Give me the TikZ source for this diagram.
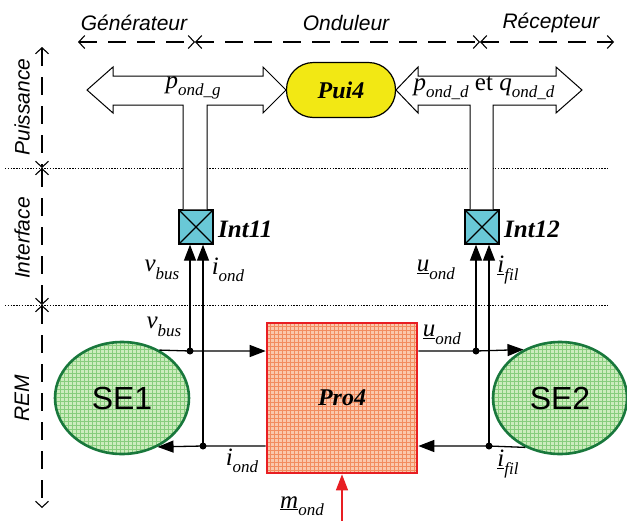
\documentclass[tikz,border=0pt]{standalone}
\usepackage{fontspec}
\setmainfont{Liberation Serif}
\newfontfamily\arialf{Liberation Sans}
\usetikzlibrary{arrows.meta,shapes.geometric}
\definecolor{probase}{RGB}{250,200,172}
\definecolor{progrid}{RGB}{242,140,95}
\definecolor{prored}{RGB}{232,30,35}
\definecolor{sebase}{RGB}{205,236,190}
\definecolor{segrid}{RGB}{135,205,125}
\definecolor{segreen}{RGB}{25,120,60}
\definecolor{intcyan}{RGB}{105,200,215}
\definecolor{puiyel}{RGB}{242,232,20}
\newcommand{\vsb}[2]{\textit{#1}\raisebox{-0.3em}{\fontsize{17pt}{17pt}\selectfont\textit{#2}}}
\begin{document}
\begin{tikzpicture}[x=1pt,y=-1pt,
  axlab/.style={font=\arialf\itshape\fontsize{21pt}{21pt}\selectfont, inner sep=0pt},
  axis/.style={dash pattern=on 18pt off 11pt, line width=1.1pt, {Straight Barb[length=6pt,width=13pt]}-{Straight Barb[length=6pt,width=13pt]}},
  sepline/.style={dash pattern=on 1.4pt off 1.4pt, line width=1pt},
  lab/.style={font=\fontsize{25pt}{25pt}\selectfont, inner sep=0pt},
  bold/.style={font=\bfseries\itshape\fontsize{25pt}{25pt}\selectfont, inner sep=0pt},
  arr/.style={-{Triangle[length=16pt,width=12pt]}, line width=1.3pt},
  dot/.style={circle, fill=black, minimum size=7pt, inner sep=0pt},
  bigarrow/.style={draw=black, fill=white, line width=1pt},
  intbox/.style={draw=black, fill=intcyan, line width=1.3pt, minimum size=34pt, inner sep=0pt,
    path picture={\draw[line width=1.2pt] (path picture bounding box.north west) -- (path picture bounding box.south east)
      (path picture bounding box.north east) -- (path picture bounding box.south west);}},
  se/.style={ellipse, draw=segreen, line width=2.6pt, fill=sebase, minimum width=134pt, minimum height=112pt, inner sep=0pt,
    font=\arialf\fontsize{32pt}{32pt}\selectfont,
    path picture={\draw[segrid, line width=0.5pt, step=4pt] ([shift={(-2pt,-2pt)}]path picture bounding box.south west) grid ([shift={(2pt,2pt)}]path picture bounding box.north east);}},
  pro/.style={rectangle, draw=prored, line width=2.6pt, fill=probase, minimum width=150pt, minimum height=150pt, inner sep=0pt,
    font=\bfseries\itshape\fontsize{24pt}{24pt}\selectfont,
    path picture={\draw[progrid, line width=0.5pt, step=4pt] ([shift={(-2pt,-2pt)}]path picture bounding box.south west) grid ([shift={(2pt,2pt)}]path picture bounding box.north east);}},
  pui/.style={rectangle, rounded corners=27pt, draw=black, line width=1.2pt, fill=puiyel, minimum width=109pt, minimum height=55pt, inner sep=0pt,
    font=\bfseries\itshape\fontsize{24pt}{24pt}\selectfont}
]
\useasboundingbox (0,0) rectangle (627,520);

% axis marks
\coordinate (a0) at (78,42);
\coordinate (a1) at (195,42);
\coordinate (a2) at (480,42);
\coordinate (a3) at (614,42);
\coordinate (v0) at (42,47);
\coordinate (v1) at (42,168);
\coordinate (v2) at (42,305);
\coordinate (v3) at (42,508);
\draw[axis] (a0) -- (a1);
\draw[axis] (a1) -- (a2);
\draw[axis] (a2) -- (a3);
\draw[axis] (v0) -- (v1);
\draw[axis] (v1) -- (v2);
\draw[axis] (v2) -- (v3);

\node[axlab] (tg) at (134,23) {Générateur};
\node[axlab] (to) at (346,23) {Onduleur};
\node[axlab] (tr) at (551,23) {Récepteur};
\node[axlab, rotate=90] (tp) at (22,107) {Puissance};
\node[axlab, rotate=90] (ti) at (22,238) {Interface};
\node[axlab, rotate=90] (tm) at (22,398) {REM};

% separator lines
\coordinate (s1a) at (5,168);
\coordinate (s1b) at (608,168);
\coordinate (s2a) at (5,305);
\coordinate (s2b) at (608,305);
\draw[sepline] (s1a) -- (s1b);
\draw[sepline] (s2a) -- (s2b);

% main nodes
\node[intbox] (int11) at (196,227) {};
\node[intbox] (int12) at (482,227) {};
\node[bold, anchor=west] (l11) at (218,229) {Int11};
\node[bold, anchor=west] (l12) at (504,229) {Int12};

% big double arrows with stems
\coordinate (g1) at (183,105);
\coordinate (g2) at (207,105);
\coordinate (d1s) at (470,105);
\coordinate (d2s) at (493,105);
\draw[bigarrow] (g1 |- int11.north) -- (g1) -- (113,105) -- (113,113) -- (87,90) -- (113,67) -- (113,76)
  -- (263,76) -- (263,67) -- (286,90) -- (263,113) -- (263,105) -- (g2) -- (g2 |- int11.north);
\draw[bigarrow] (d1s |- int12.north) -- (d1s) -- (418,105) -- (418,113) -- (396,90) -- (418,67) -- (418,76)
  -- (556,76) -- (556,67) -- (582,90) -- (556,113) -- (556,105) -- (d2s) -- (d2s |- int12.north);
\node[pui] (pui4) at (341,90) {Pui4};
\node[lab] (lpg) at (193,88) {\vsb{p}{ond\_g}};
\node[lab] (lpd) at (484,88) {\vsb{p}{ond\_d} et \vsb{q}{ond\_d}};

\node[pro] (pro4) at (342,398) {Pro4};
\node[se] (se1) at (122,398) {SE1};
\node[se] (se2) at (560,398) {SE2};

% dots
\node[dot] (dv) at (190,351) {};
\node[dot] (di) at (203,446) {};
\node[dot] (du) at (476,351) {};
\node[dot] (df) at (489,446) {};

% connectors
\draw[arr] (se1.52.2) -- (dv.center) -- (dv -| pro4.west);
\draw[arr] (pro4.west |- di) -- (di.center) -- (se1.-54.3);
\draw[arr] (pro4.east |- du) -- (du.center) -- (se2.127.8);
\draw[arr] (se2.-125.7) -- (df.center) -- (df -| pro4.east);
\draw[arr] (dv.center) -- (dv |- int11.south);
\draw[arr] (di.center) -- (di |- int11.south);
\draw[arr] (du.center) -- (du |- int12.south);
\draw[arr] (df.center) -- (df |- int12.south);
\coordinate (mend) at (342,522);
\draw[arr, prored] (mend) -- (pro4.south);

% labels
\node[lab] (lv1) at (162,270) {\vsb{v}{bus}};
\node[lab] (li1) at (228,270) {\vsb{i}{ond}};
\node[lab] (lu1) at (436,270) {\vsb{\underline{u}}{ond}};
\node[lab] (lf1) at (508,270) {\vsb{\underline{i}}{fil}};
\node[lab] (lv2) at (164,327) {\vsb{v}{bus}};
\node[lab] (lu2) at (442,335) {\vsb{\underline{u}}{ond}};
\node[lab] (li2) at (242,461) {\vsb{i}{ond}};
\node[lab] (lf2) at (508,464) {\vsb{\underline{i}}{fil}};
\node[lab] (lm) at (302,506) {\vsb{\underline{m}}{ond}};
\end{tikzpicture}
\end{document}
